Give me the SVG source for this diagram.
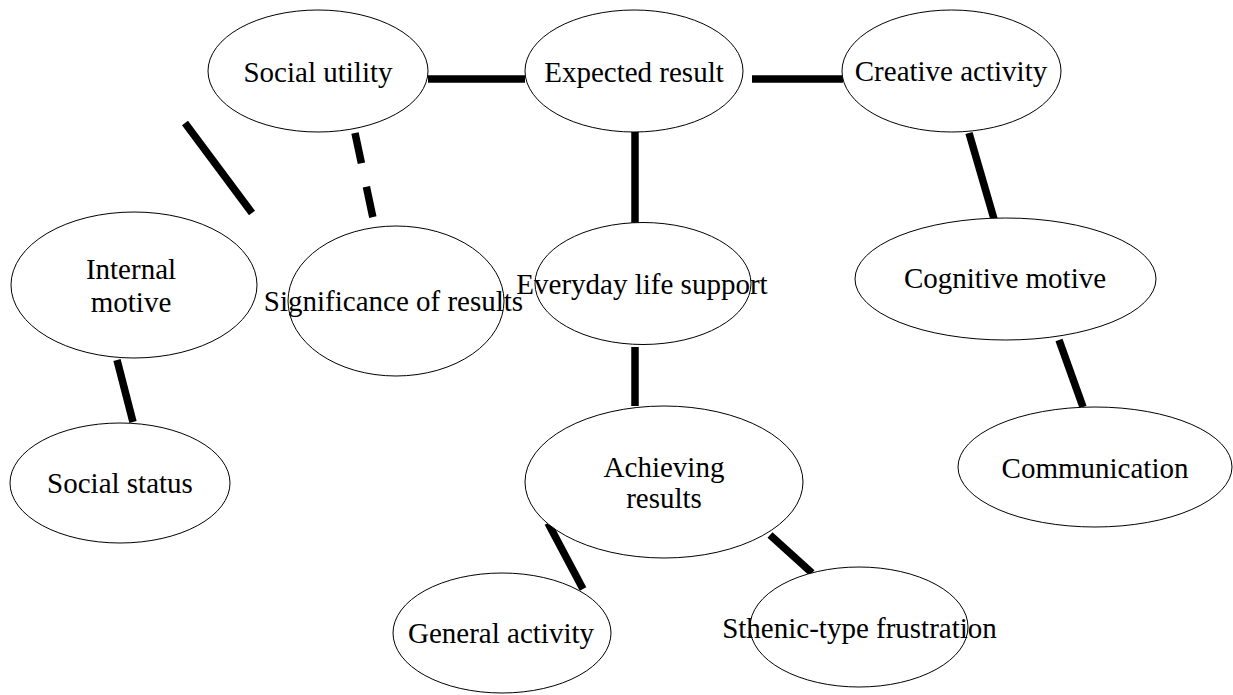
<svg xmlns="http://www.w3.org/2000/svg" width="1233" height="695" viewBox="0 0 1233 695">
<style>
.n ellipse{fill:#fff;stroke:#000;stroke-width:1}
.n text{font-family:"Liberation Serif","Times New Roman",serif;font-size:29px;fill:#000;text-anchor:middle}
.c line{stroke:#000;stroke-width:7.5;stroke-linecap:butt}
.c .d{stroke-dasharray:31 24}
</style>
<rect width="1233" height="695" fill="#fff"/>
<g class="c" id="connectors">
<line x1="428" y1="79" x2="525" y2="79"/>
<line x1="752" y1="79" x2="843" y2="79"/>
<line x1="635" y1="132" x2="635" y2="223"/>
<line x1="635" y1="347" x2="635" y2="406"/>
<line x1="185" y1="123" x2="252" y2="213"/>
<line class="d" x1="355" y1="133" x2="373" y2="218"/>
<line x1="117" y1="360" x2="133" y2="422"/>
<line x1="548" y1="523" x2="583" y2="589"/>
<line x1="770" y1="535" x2="812" y2="573"/>
<line x1="969" y1="133" x2="994" y2="219"/>
<line x1="1059" y1="340" x2="1083" y2="407"/>
</g>
<g class="n" id="social-utility"><ellipse cx="318" cy="71" rx="110" ry="61"/><text x="318" y="82">Social utility</text></g>
<g class="n" id="expected-result"><ellipse cx="634" cy="71" rx="109" ry="61"/><text x="634" y="82">Expected result</text></g>
<g class="n" id="creative-activity"><ellipse cx="951.5" cy="71" rx="109.5" ry="61"/><text x="951" y="81">Creative activity</text></g>
<g class="n" id="internal-motive"><ellipse cx="134" cy="285" rx="123" ry="73"/><text x="131" y="279">Internal</text><text x="131" y="312">motive</text></g>
<g class="n" id="significance"><ellipse cx="396" cy="301" rx="108" ry="75"/><text x="393.5" y="311">Significance of results</text></g>
<g class="n" id="everyday"><ellipse cx="643" cy="283.5" rx="108" ry="61"/><text x="642" y="294">Everyday life support</text></g>
<g class="n" id="cognitive-motive"><ellipse cx="1005.5" cy="279" rx="150.5" ry="61"/><text x="1005" y="288">Cognitive motive</text></g>
<g class="n" id="social-status"><ellipse cx="120" cy="483" rx="110" ry="60"/><text x="120" y="493">Social status</text></g>
<g class="n" id="achieving-results"><ellipse cx="664" cy="482" rx="139" ry="76"/><text x="664" y="477">Achieving</text><text x="664" y="508">results</text></g>
<g class="n" id="communication"><ellipse cx="1095" cy="467" rx="137" ry="60"/><text x="1095" y="478">Communication</text></g>
<g class="n" id="general-activity"><ellipse cx="502" cy="633" rx="109" ry="60"/><text x="501" y="643">General activity</text></g>
<g class="n" id="sthenic"><ellipse cx="859" cy="627" rx="109" ry="60"/><text x="859.5" y="638">Sthenic-type frustration</text></g>
</svg>
